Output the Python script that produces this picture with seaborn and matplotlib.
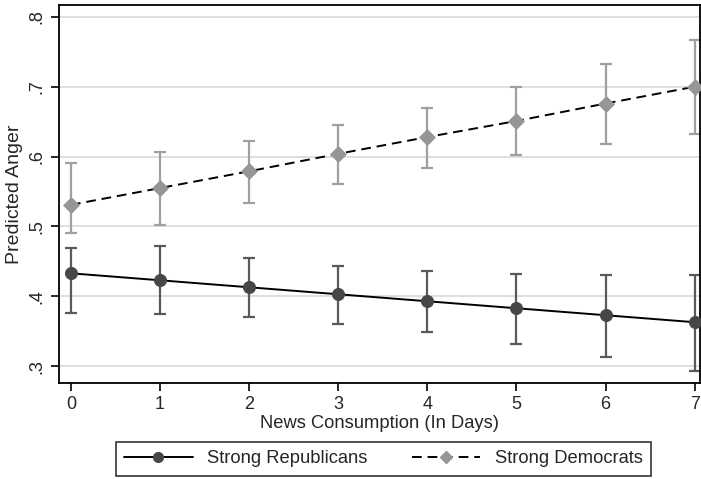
import numpy as np
import pandas as pd
import matplotlib
matplotlib.use("Agg")
import matplotlib.pyplot as plt
import seaborn as sns
from matplotlib.lines import Line2D

# Daten
days = [0, 1, 2, 3, 4, 5, 6, 7]
rep_pred = [0.433, 0.423, 0.413, 0.403, 0.393, 0.383, 0.373, 0.363]
rep_low = [0.376, 0.375, 0.370, 0.361, 0.349, 0.332, 0.313, 0.293]
rep_high = [0.469, 0.472, 0.455, 0.444, 0.436, 0.432, 0.431, 0.431]
dem_pred = [0.531, 0.555, 0.579, 0.604, 0.628, 0.651, 0.676, 0.700]
dem_low = [0.490, 0.502, 0.534, 0.561, 0.584, 0.603, 0.618, 0.632]
dem_high = [0.591, 0.606, 0.623, 0.645, 0.669, 0.699, 0.732, 0.767]
y_ticks = [0.3, 0.4, 0.5, 0.6, 0.7, 0.8]
y_labels = [".3", ".4", ".5", ".6", ".7", ".8"]

df = pd.DataFrame({
    "days": days * 2,
    "pred": rep_pred + dem_pred,
    "low": rep_low + dem_low,
    "high": rep_high + dem_high,
    "group": ["Strong Republicans"] * 8 + ["Strong Democrats"] * 8,
})

sns.set_style("white")
plt.rcParams["font.family"] = ["Liberation Sans", "DejaVu Sans"]

fig = plt.figure(figsize=(7.01, 4.79), dpi=100)
ax = fig.add_axes([0.0842, 0.2004, 0.9144, 0.7892])

rep_col = "#464646"
dem_col = "#969696"

# Konfidenzintervalle
for grp, col in [("Strong Republicans", "#5a5a5a"), ("Strong Democrats", "#a0a0a0")]:
    d = df[df["group"] == grp]
    ax.errorbar(d["days"], d["pred"],
                yerr=[d["pred"] - d["low"], d["high"] - d["pred"]],
                fmt="none", ecolor=col, elinewidth=1.6, capsize=4.5, capthick=1.6, zorder=2)

# Linien
rep = df[df["group"] == "Strong Republicans"]
dem = df[df["group"] == "Strong Democrats"]
sns.lineplot(data=rep, x="days", y="pred", ax=ax, color="black", lw=1.4, zorder=3)
sns.lineplot(data=dem, x="days", y="pred", ax=ax, color="black", lw=1.4,
             linestyle=(0, (5, 3)), zorder=3)
sns.scatterplot(data=rep, x="days", y="pred", ax=ax, color=rep_col, marker="o",
                s=75, edgecolor=rep_col, zorder=4)
sns.scatterplot(data=dem, x="days", y="pred", ax=ax, color=dem_col, marker="D",
                s=64, edgecolor=dem_col, zorder=4)

ax.set_xlim(-0.134, 7.06)
ax.set_ylim(0.276, 0.817)
ax.set_xticks(days)
ax.set_yticks(y_ticks)
ax.set_yticklabels(y_labels, rotation=90, va="center")
ax.tick_params(axis="both", direction="out", length=6, width=1.2, labelsize=13,
               bottom=True, left=True, color="black")
ax.grid(axis="y", color="#d9d9d9", lw=1.2)
ax.set_axisbelow(True)
for sp in ax.spines.values():
    sp.set_color("black")
    sp.set_linewidth(1.3)

ax.set_xlabel("News Consumption (In Days)", fontsize=13.2, labelpad=1)
ax.set_ylabel("Predicted Anger", fontsize=14, labelpad=4)

handles = [
    Line2D([], [], color="black", lw=1.4, marker="o", markersize=7,
           markerfacecolor=rep_col, markeredgecolor=rep_col),
    Line2D([], [], color="black", lw=1.4, linestyle=(0, (5, 3)), marker="D", markersize=6,
           markerfacecolor=dem_col, markeredgecolor=dem_col),
]
leg = fig.legend(handles, ["Strong Republicans", "Strong Democrats"], loc="center",
                 bbox_to_anchor=(0.547, 0.042), ncol=2, fontsize=13.2, frameon=True,
                 fancybox=False, edgecolor="black", handlelength=3.75, numpoints=1,
                 columnspacing=2.4, borderpad=0.45, borderaxespad=0, handletextpad=0.8)
leg.get_frame().set_linewidth(1.2)

fig.savefig("out.png", dpi=100)
